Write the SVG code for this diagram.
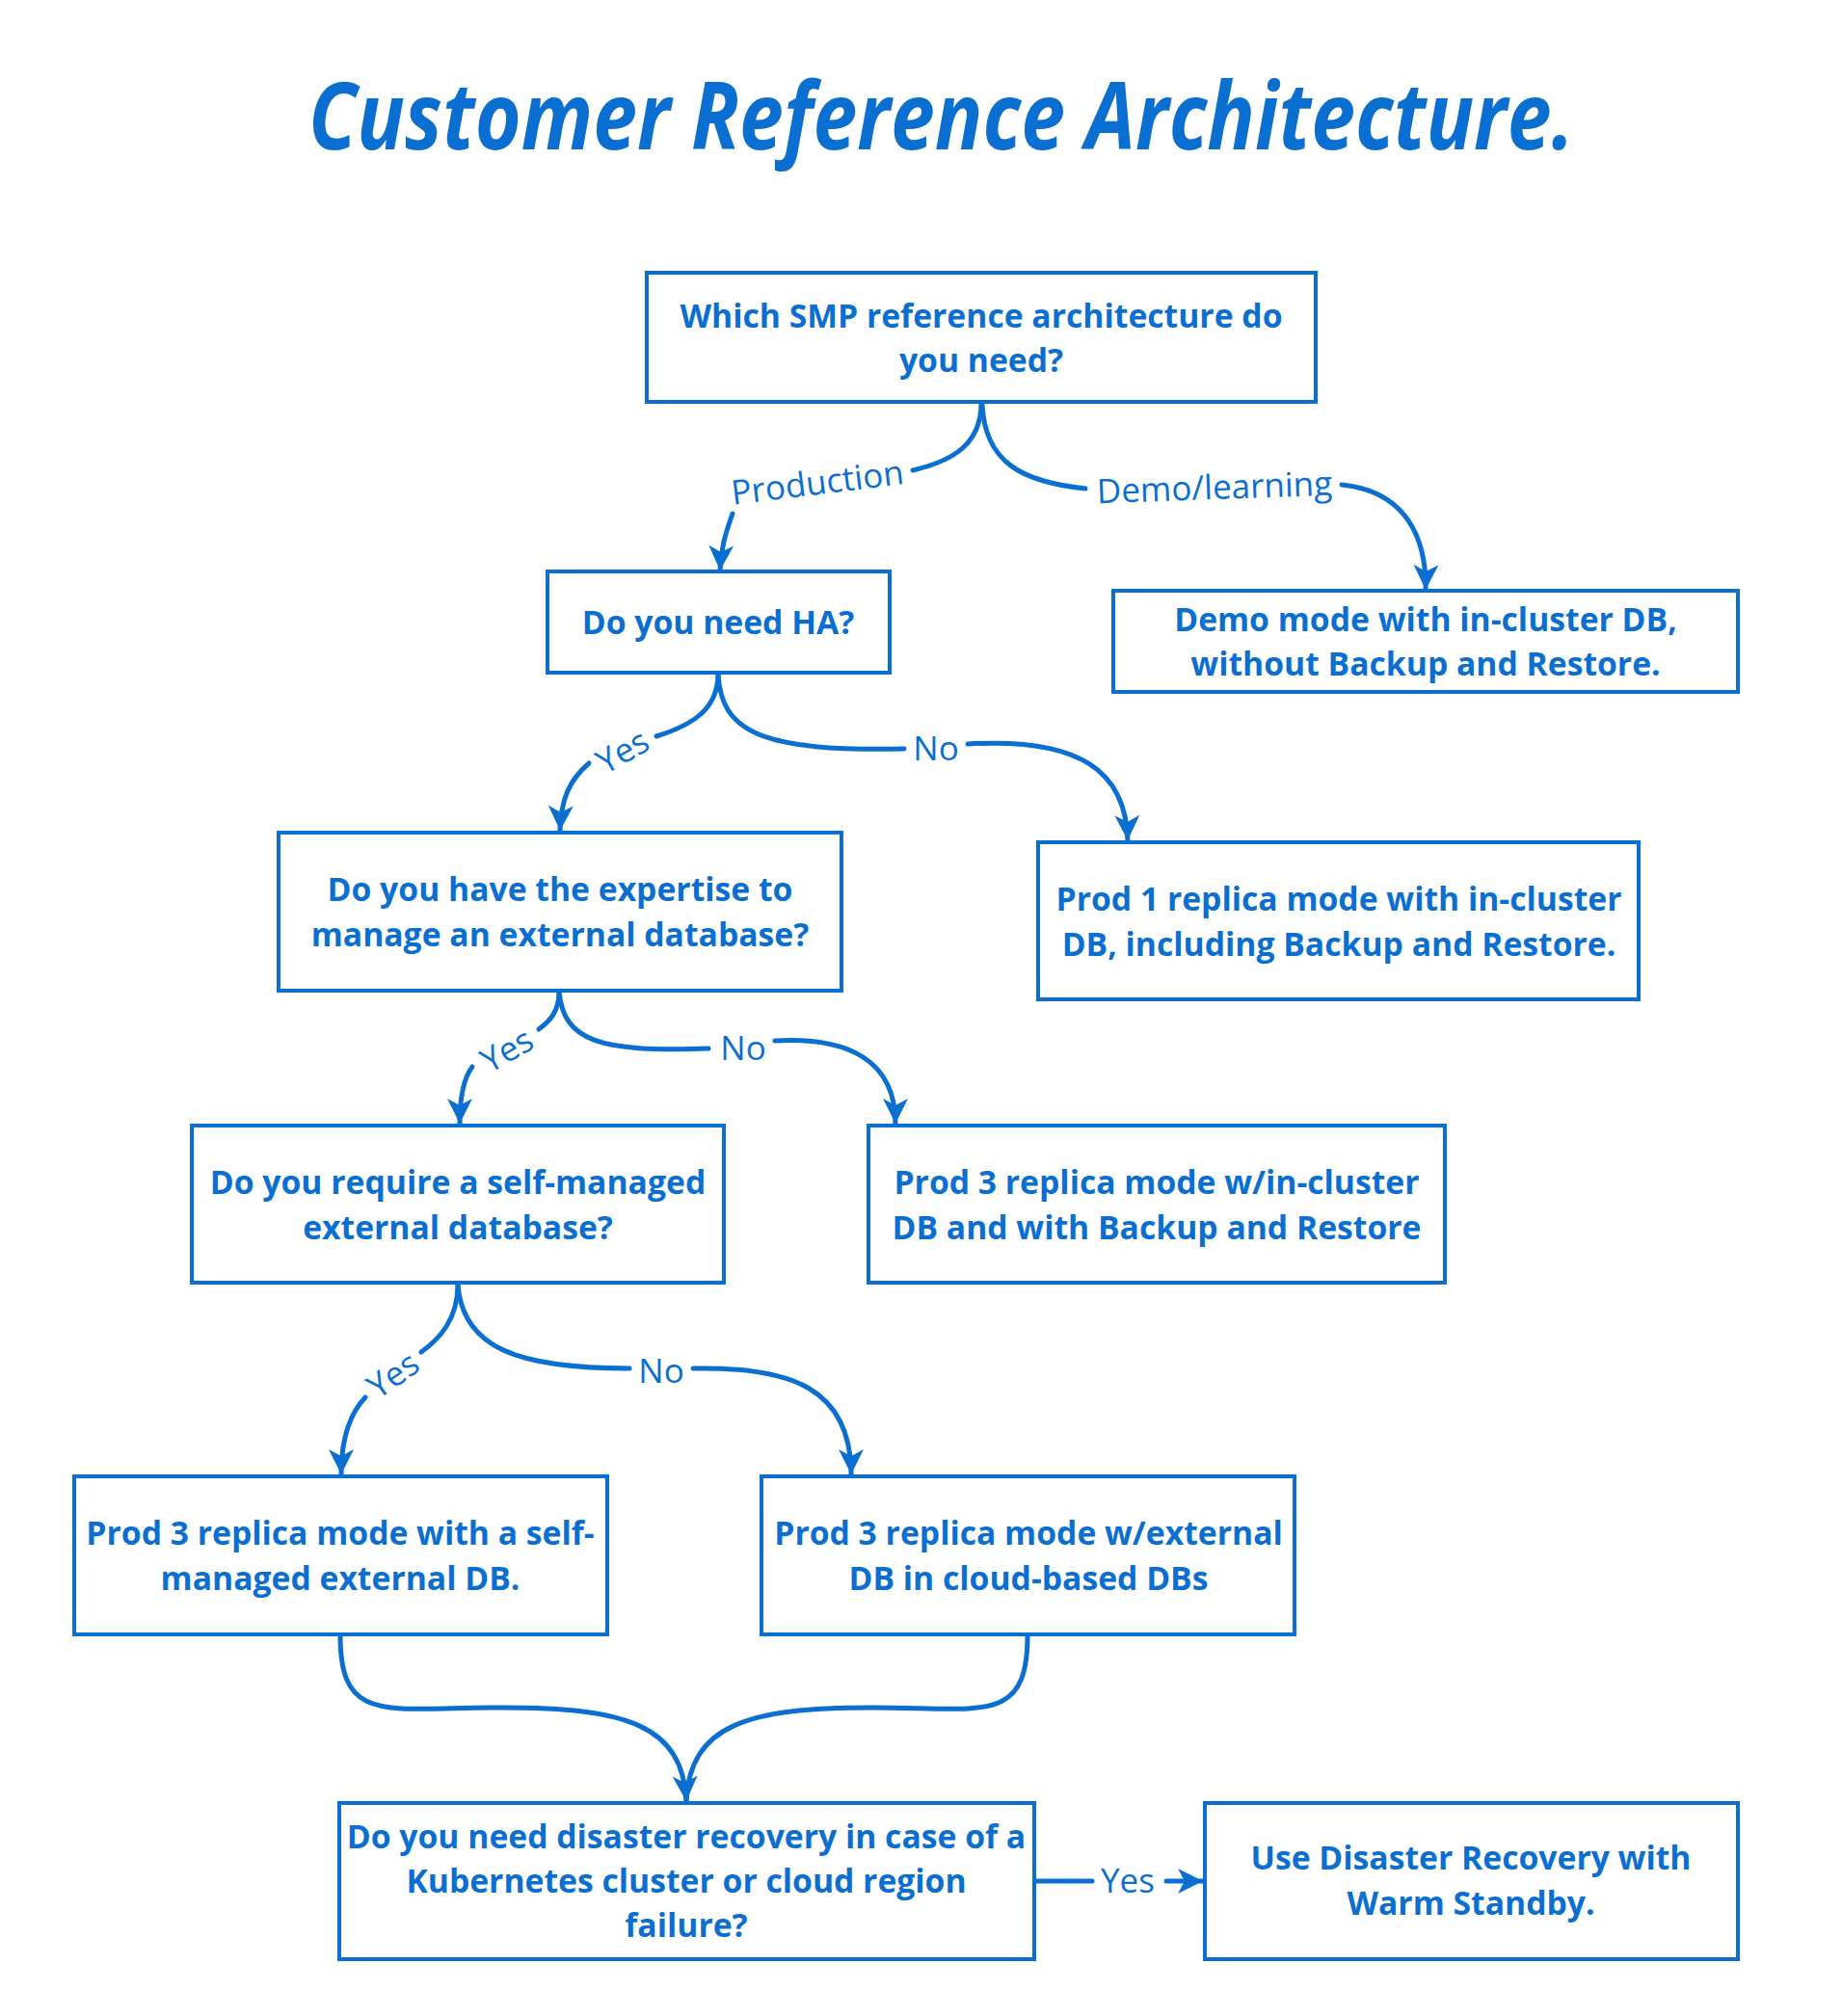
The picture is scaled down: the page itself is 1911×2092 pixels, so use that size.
<svg xmlns="http://www.w3.org/2000/svg" width="1911" height="2092" viewBox="0 0 1911 2092">
<defs>
<style>
.box{fill:#ffffff;stroke:#0b6fd1;stroke-width:4}
.t{font-family:"Open Sans","Noto Sans",sans-serif;font-weight:700;font-size:33.7px;fill:#0b6fd1;text-anchor:middle}
.lbl{font-family:"Open Sans","Noto Sans",sans-serif;font-weight:400;font-size:35px;fill:#0b6fd1;text-anchor:middle}
.c{fill:none;stroke:#0b6fd1;stroke-width:5;stroke-linecap:round}
.title{font-family:"Open Sans","Noto Sans",sans-serif;font-weight:700;font-style:italic;font-size:96px;fill:#0b6fd1}
</style>
<marker id="ah" viewBox="-2 -16 32 32" refX="26" refY="0" markerWidth="32" markerHeight="32" markerUnits="userSpaceOnUse" orient="auto">
<path d="M0,-13 L26,0 L0,13 L7,0 z" fill="#0b6fd1"/>
</marker>
</defs>
<rect width="1911" height="2092" fill="#ffffff"/>
<text class="title" x="320" y="155" textLength="1313" lengthAdjust="spacingAndGlyphs">Customer Reference Architecture.</text>

<g id="connectors">
<path class="c" d="M1018,418 C1018,460 990,478 947,488"/>
<path class="c" d="M760,533 C752,555 748,570 747,592" marker-end="url(#ah)"/>
<path class="c" d="M1019,420 C1022,480 1060,500 1126,507"/>
<path class="c" d="M1392,503 C1460,510 1480,560 1479,612" marker-end="url(#ah)"/>
<path class="c" d="M745,699 C745,735 720,752 681,764"/>
<path class="c" d="M611,792 C590,810 582,830 581,862" marker-end="url(#ah)"/>
<path class="c" d="M745,699 C748,760 790,780 938,777"/>
<path class="c" d="M1004,772 C1120,765 1168,800 1170,872" marker-end="url(#ah)"/>
<path class="c" d="M580,1029 C580,1050 570,1060 559,1068"/>
<path class="c" d="M490,1107 C480,1120 477,1140 477,1166" marker-end="url(#ah)"/>
<path class="c" d="M580,1029 C585,1080 620,1092 735,1088"/>
<path class="c" d="M804,1080 C880,1076 929,1100 929,1166" marker-end="url(#ah)"/>
<path class="c" d="M475,1333 C475,1370 455,1390 437,1403"/>
<path class="c" d="M379,1450 C360,1470 354,1500 354,1530" marker-end="url(#ah)"/>
<path class="c" d="M475,1333 C480,1400 540,1420 653,1420"/>
<path class="c" d="M719,1420 C820,1418 883,1440 883,1530" marker-end="url(#ah)"/>
<path class="c" d="M353,1697 C353,1790 400,1772 520,1772 C650,1772 708,1790 712,1869" marker-end="url(#ah)"/>
<path class="c" d="M1066,1697 C1066,1790 1020,1772 905,1772 C775,1772 716,1790 712,1869"/>
<path class="c" d="M1073,1952 L1133,1952"/>
<path class="c" d="M1210,1952 L1248,1952" marker-end="url(#ah)"/>
<text class="lbl" x="848" y="513" transform="rotate(-7 848 501)">Production</text>
<text class="lbl" x="1260" y="518" transform="rotate(-2 1260 506)">Demo/learning</text>
<text class="lbl" x="646" y="792" transform="rotate(-30 646 780)">Yes</text>
<text class="lbl" x="971" y="789">No</text>
<text class="lbl" x="526" y="1102" transform="rotate(-30 526 1090)">Yes</text>
<text class="lbl" x="771" y="1100">No</text>
<text class="lbl" x="408" y="1439" transform="rotate(-35 408 1427)">Yes</text>
<text class="lbl" x="686" y="1435">No</text>
<text class="lbl" x="1170" y="1964">Yes</text>
</g>

<g id="n1"><rect class="box" x="671" y="283" width="694" height="134"/>
<text class="t" x="1018" y="340">Which SMP reference architecture do</text>
<text class="t" x="1018" y="386">you need?</text></g>
<g id="n2"><rect class="box" x="568" y="593" width="355" height="105"/>
<text class="t" x="745" y="658">Do you need HA?</text></g>
<g id="n3"><rect class="box" x="1155" y="613" width="648" height="105"/>
<text class="t" x="1479" y="655">Demo mode with in-cluster DB,</text>
<text class="t" x="1479" y="701">without Backup and Restore.</text></g>
<g id="n4"><rect class="box" x="289" y="864" width="584" height="164"/>
<text class="t" x="581" y="935">Do you have the expertise to</text>
<text class="t" x="581" y="982">manage an external database?</text></g>
<g id="n5"><rect class="box" x="1077" y="874" width="623" height="163"/>
<text class="t" x="1389" y="945">Prod 1 replica mode with in-cluster</text>
<text class="t" x="1389" y="992">DB, including Backup and Restore.</text></g>
<g id="n6"><rect class="box" x="199" y="1168" width="552" height="163"/>
<text class="t" x="475" y="1239">Do you require a self-managed</text>
<text class="t" x="475" y="1286">external database?</text></g>
<g id="n7"><rect class="box" x="901" y="1168" width="598" height="163"/>
<text class="t" x="1200" y="1239">Prod 3 replica mode w/in-cluster</text>
<text class="t" x="1200" y="1286">DB and with Backup and Restore</text></g>
<g id="n8"><rect class="box" x="77" y="1532" width="553" height="164"/>
<text class="t" x="353" y="1603">Prod 3 replica mode with a self-</text>
<text class="t" x="353" y="1650">managed external DB.</text></g>
<g id="n9"><rect class="box" x="790" y="1532" width="553" height="164"/>
<text class="t" x="1067" y="1603">Prod 3 replica mode w/external</text>
<text class="t" x="1067" y="1650">DB in cloud-based DBs</text></g>
<g id="n10"><rect class="box" x="352" y="1871" width="721" height="162"/>
<text class="t" x="712" y="1918">Do you need disaster recovery in case of a</text>
<text class="t" x="712" y="1964">Kubernetes cluster or cloud region</text>
<text class="t" x="712" y="2010">failure?</text></g>
<g id="n11"><rect class="box" x="1250" y="1871" width="553" height="162"/>
<text class="t" x="1526" y="1940">Use Disaster Recovery with</text>
<text class="t" x="1526" y="1987">Warm Standby.</text></g>
</svg>
